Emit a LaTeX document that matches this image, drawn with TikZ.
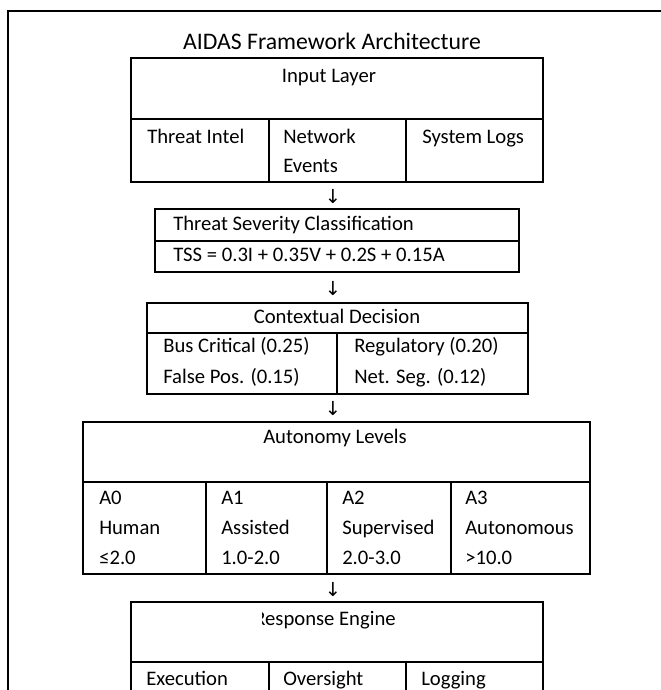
\documentclass[tikz,border=0pt]{standalone}
\usepackage{fontspec}
\setmainfont{Carlito}
\newfontfamily\arrowfont{DejaVu Sans}
\usetikzlibrary{positioning}

\tikzset{
  rule/.style={draw=black, line width=0.9pt},
  cell/.style={inner sep=0pt, anchor=west, text height=1.0em, text depth=0.2em,
    font=\fontsize{15.5}{18}\selectfont},
  head/.style={inner sep=0pt, text height=1.0em, text depth=0.2em,
    font=\fontsize{15.5}{18}\selectfont},
  downarrow/.style={inner sep=0pt, font=\arrowfont\fontsize{14.5}{16}\selectfont},
}

\begin{document}
\begin{tikzpicture}[x=0.75pt, y=-0.75pt]
  \useasboundingbox (0,0) rectangle (661,690);
  \clip (0,0) rectangle (661,690);

  % Rahmen
  \draw[rule] (8,690) -- (8,11) -- (661,11);
  \node[inner sep=0pt, text height=1.0em, text depth=0.2em, font=\fontsize{17.8}{21}\selectfont] (title) at (332,44) {AIDAS Framework Architecture};

  % Input Layer
  \draw[rule] (131,58) rectangle (543,182);
  \draw[rule] (131,119) -- (543,119);
  \draw[rule] (269,119) -- (269,182);
  \draw[rule] (406,119) -- (406,182);
  \node[head] (input) at (329,77) {Input Layer};
  \node[cell] (intel) at (147,138) {Threat Intel};
  \node[cell] (net) at (283,138) {Network};
  \node[cell] (events) at (283,167) {Events};
  \node[cell] (logs) at (422,138) {System Logs};

  \node[downarrow] (a1) at (333,196) {↓};

  % Threat Severity Classification
  \draw[rule] (155,209) rectangle (519,272);
  \draw[rule] (155,241) -- (519,241);
  \node[cell] (tsc) at (173,225) {Threat Severity Classification};
  \node[cell] (tss) at (173,256) {TSS = 0.3I + 0.35V + 0.2S + 0.15A};

  \node[downarrow] (a2) at (333,288) {↓};

  % Contextual Decision
  \draw[rule] (147,303) rectangle (528,394);
  \draw[rule] (147,333) -- (528,333);
  \draw[rule] (337,333) -- (337,394);
  \node[head] (ctx) at (337,318) {Contextual Decision};
  \node[cell] (bus) at (163,347) {Bus Critical (0.25)};
  \node[cell] (fp) at (163,378) {False Pos. (0.15)};
  \node[cell] (reg) at (354,347) {Regulatory (0.20)};
  \node[cell] (seg) at (354,378) {Net. Seg. (0.12)};

  \node[downarrow] (a3) at (333,408) {↓};

  % Autonomy Levels
  \draw[rule] (83,422) rectangle (590,574);
  \draw[rule] (83,482) -- (590,482);
  \foreach \xd in {206,327,451}
    \draw[rule] (\xd,482) -- (\xd,574);
  \node[head] (auto) at (335,438) {Autonomy Levels};
  \foreach \xc/\lvl/\nm/\rng [count=\i from 0] in {99/A0/Human/≤2.0, 221/A1/Assisted/1.0-2.0,
      342/A2/Supervised/2.0-3.0, 465/A3/Autonomous/>10.0} {
    \node[cell] (lvl\i) at (\xc,499) {\lvl};
    \node[cell] (mode\i) at (\xc,529) {\nm};
    \node[cell] (rng\i) at (\xc,559) {\rng};
  }

  \node[downarrow] (a4) at (333,589) {↓};

  % Response Engine
  \draw[rule] (131,602) rectangle (543,705);
  \draw[rule] (131,662) -- (543,662);
  \draw[rule] (269,662) -- (269,705);
  \draw[rule] (406,662) -- (406,705);
  \begin{scope}
    \clip (262,605) rectangle (540,640);
    \node[head] (resp) at (325,620) {Response Engine};
  \end{scope}
  \node[cell] (exec) at (146,680) {Execution};
  \node[cell] (over) at (283,680) {Oversight};
  \node[cell] (logg) at (421,680) {Logging};
\end{tikzpicture}
\end{document}
